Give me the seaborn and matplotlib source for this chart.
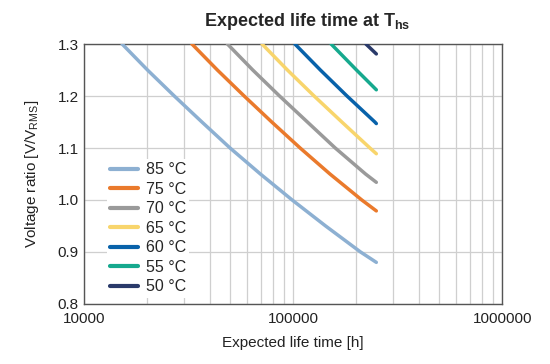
import seaborn as sns
import matplotlib.pyplot as plt
import matplotlib.ticker as mticker
import pandas as pd

# values (life time in h, voltage ratio)
temps = ['85 °C', '75 °C', '70 °C', '65 °C', '60 °C', '55 °C', '50 °C']

life_85 = [15200, 20100, 27000, 36600, 49900, 69700, 98900, 143000, 210000, 250000]
ratio_85 = [1.30, 1.25, 1.20, 1.15, 1.10, 1.05, 1.00, 0.95, 0.90, 0.88]

life_75 = [32800, 43400, 58300, 79000, 108000, 150000, 213000, 250000]
ratio_75 = [1.30, 1.25, 1.20, 1.15, 1.10, 1.05, 1.00, 0.979]

life_70 = [48500, 64100, 86100, 117000, 159000, 222000, 250000]
ratio_70 = [1.30, 1.25, 1.20, 1.15, 1.10, 1.05, 1.034]

life_65 = [71000, 93900, 126000, 171000, 233000, 250000]
ratio_65 = [1.30, 1.25, 1.20, 1.15, 1.10, 1.089]

life_60 = [102000, 135000, 181000, 246000, 250000]
ratio_60 = [1.30, 1.25, 1.20, 1.15, 1.147]

life_55 = [152000, 201000, 250000]
ratio_55 = [1.30, 1.25, 1.212]

life_50 = [223000, 250000]
ratio_50 = [1.30, 1.281]

colors = ['#8db0d2', '#ea7a2c', '#9a9a9a', '#f8d56c', '#0862aa', '#16a98e', '#2a3a6a']

lifes = [life_85, life_75, life_70, life_65, life_60, life_55, life_50]
ratios = [ratio_85, ratio_75, ratio_70, ratio_65, ratio_60, ratio_55, ratio_50]

rows = []
for t, xs, ys in zip(temps, lifes, ratios):
    for x, y in zip(xs, ys):
        rows.append({'temp': t, 'life': x, 'ratio': y})
df = pd.DataFrame(rows)

sns.set_style('white')
plt.rcParams['font.family'] = ['Liberation Sans', 'DejaVu Sans']
plt.rcParams['mathtext.fontset'] = 'custom'
plt.rcParams['mathtext.rm'] = 'Liberation Sans'
plt.rcParams['mathtext.bf'] = 'Liberation Sans:bold'

fig = plt.figure(figsize=(5.5, 3.64), dpi=100)
ax = fig.add_axes([0.153, 0.165, 0.760, 0.714])

sns.lineplot(data=df, x='life', y='ratio', hue='temp', hue_order=temps,
             palette=dict(zip(temps, colors)), sort=False, estimator=None,
             linewidth=2.5, ax=ax, zorder=3)

ax.set_xscale('log')
ax.set_xlim(10000, 1000000)
ax.set_ylim(0.8, 1.3)
ax.set_xticks([10000, 100000, 1000000])
ax.xaxis.set_major_formatter(mticker.FuncFormatter(lambda v, p: f'{int(v)}'))
ax.xaxis.set_minor_locator(mticker.LogLocator(base=10, subs=range(2, 10)))
ax.xaxis.set_minor_formatter(mticker.NullFormatter())
ax.set_yticks([0.8, 0.9, 1.0, 1.1, 1.2, 1.3])
ax.yaxis.set_major_formatter(mticker.FormatStrFormatter('%.1f'))

ax.grid(True, which='both', axis='x', color='#cfcfcf', linewidth=0.9)
ax.grid(True, which='major', axis='y', color='#cfcfcf', linewidth=0.9)
ax.tick_params(which='both', length=0, labelsize=11, colors='#222222')
ax.tick_params(axis='x', pad=6)
ax.tick_params(axis='y', pad=4)
for s in ax.spines.values():
    s.set_color('#555555')
    s.set_linewidth(1.0)

ax.set_xlabel('Expected life time [h]', fontsize=11, color='#222222', labelpad=7)
ax.set_ylabel(r'Voltage ratio [V/V$_\mathrm{RMS}$]', fontsize=11, color='#222222', labelpad=12)
fig.text(0.558, 0.94, r'Expected life time at $\mathbf{T}_\mathbf{hs}$', fontsize=13,
         fontweight='bold', ha='center', va='center')

leg = ax.legend(loc='lower left', bbox_to_anchor=(0.035, -0.006), frameon=True,
                facecolor='white', edgecolor='none', framealpha=1,
                fontsize=11.5, handlelength=1.75, handletextpad=0.5,
                labelspacing=0.28, borderpad=0.2, title=None)
for line in leg.get_lines():
    line.set_linewidth(3)

fig.savefig('out.png', dpi=100)
